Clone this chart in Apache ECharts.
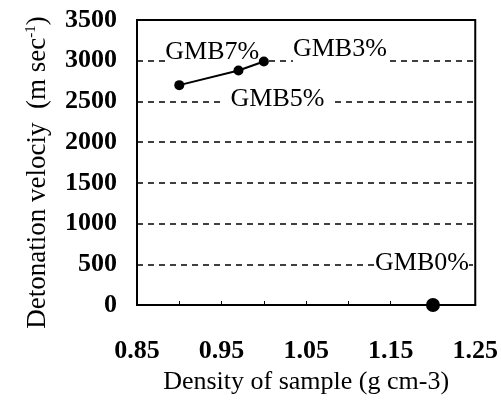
<!DOCTYPE html>
<html>
<head>
<meta charset="utf-8">
<script src="https://cdn.jsdelivr.net/npm/echarts@6/dist/echarts.min.js"></script>
<style>html,body{margin:0;padding:0;background:#fff;}#c{width:501px;height:400px;}</style>
</head>
<body>
<div id="c"></div>
<script>
const sampleNames = ['GMB7%', 'GMB5%', 'GMB3%'];
const densities = [0.90, 0.97, 1.00];
const velocities = [2700, 2880, 2990];
const zeroName = 'GMB0%';
const zeroDensity = 1.20;
const zeroVelocity = 0;
const xTickLabels = ['0.85', '0.95', '1.05', '1.15', '1.25'];

const labelOffsets = [[33, -33], [39, 29], [76, -12]];
const labelPads = [[0, 0], [0, 10], [0, 0]];
const zeroLabelOffset = [-11, -42];

const font = 'Liberation Serif';
const labelStyle = (off, pad) => ({
  show: true, position: 'inside', offset: off, color: '#000', opacity: 1,
  fontFamily: font, fontSize: 26, backgroundColor: '#fff', padding: pad,
  formatter: p => p.name
});

const labelData = densities.map((d, i) => ({name: sampleNames[i], value: [d, velocities[i]], label: labelStyle(labelOffsets[i], labelPads[i])}))
  .concat([{name: zeroName, value: [zeroDensity, zeroVelocity], label: labelStyle(zeroLabelOffset, [0, 0])}]);

const chart = echarts.init(document.getElementById('c'), null, {renderer: 'canvas'});
chart.setOption({
  animation: false,
  backgroundColor: '#fff',
  grid: {left: 137, right: 24, top: 20, bottom: 95, show: true, borderColor: '#000', borderWidth: 2, containLabel: false},
  xAxis: {
    type: 'value', min: 0.85, max: 1.25, interval: 0.05,
    name: 'Density of sample (g cm-3)', nameLocation: 'middle', nameGap: 61,
    nameTextStyle: {fontFamily: font, fontSize: 26, color: '#000'},
    axisLine: {show: true, lineStyle: {color: '#000', width: 2}},
    axisTick: {show: true, inside: true, length: 4, lineStyle: {color: '#000', width: 1}},
    splitLine: {show: false},
    axisLabel: {
      margin: 33, color: '#000', fontFamily: font, fontSize: 26, fontWeight: 'bold',
      formatter: v => { const s = v.toFixed(2); return xTickLabels.includes(s) ? s : ''; }
    }
  },
  yAxis: {
    type: 'value', min: 0, max: 3500, interval: 500,
    name: 'Detonation velociy  (m sec{sup|-1})', nameLocation: 'middle', nameGap: 86,
    nameTextStyle: {fontFamily: font, fontSize: 27, color: '#000', padding: [0, 20, 0, 0],
      rich: {sup: {fontFamily: font, fontSize: 15, color: '#000', verticalAlign: 'top', padding: [0, 0, 12, 0]}}},
    axisLine: {show: true, lineStyle: {color: '#000', width: 2}},
    axisTick: {show: false},
    splitLine: {show: true, lineStyle: {color: '#000', width: 1.5, type: [6, 5]}},
    axisLabel: {margin: 20, color: '#000', fontFamily: font, fontSize: 26, fontWeight: 'bold', formatter: v => String(v)}
  },
  series: [
    {
      type: 'scatter',
      data: labelData,
      symbolSize: 0,
      itemStyle: {opacity: 1},
      silent: true,
      z: 2
    },
    {
      type: 'line',
      data: densities.map((d, i) => [d, velocities[i]]),
      symbol: 'circle', symbolSize: 10,
      lineStyle: {color: '#000', width: 2},
      itemStyle: {color: '#000', opacity: 1},
      label: {show: false},
      z: 3
    },
    {
      type: 'scatter',
      data: [[zeroDensity, zeroVelocity]],
      symbol: 'circle', symbolSize: 14,
      itemStyle: {color: '#000', opacity: 1},
      z: 3
    }
  ]
});
</script>
</body>
</html>
